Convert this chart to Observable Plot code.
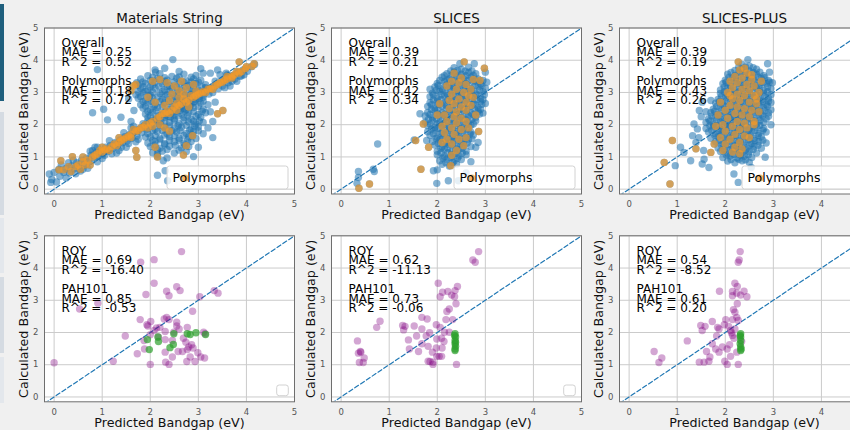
<!DOCTYPE html>
<html><head><meta charset="utf-8">
<script src="https://cdn.jsdelivr.net/npm/d3@7"></script>
<script src="https://cdn.jsdelivr.net/npm/@observablehq/plot@0.6"></script>
<style>
body{margin:0;background:#f0f0f0;font-family:"DejaVu Sans",sans-serif;}
#fig{position:relative;width:850px;height:430px;overflow:hidden;background:#f0f0f0;}
.panel{position:absolute;}
.deco{position:absolute;left:0;width:4px;}
</style></head><body>
<div id="fig">
  <div class="deco" style="top:4px;height:97px;background:#1f5f7d"></div>
  <div class="deco" style="top:112px;height:103px;background:#d5dbe2"></div>
  <div class="deco" style="top:218px;height:55px;background:#e3e7ec"></div>
  <div class="deco" style="top:277px;height:76px;background:#d5dbe2"></div>
  <div class="deco" style="top:357px;height:46px;background:#e3e7ec"></div>
</div>
<script>
// ---------- labels & statistics ----------
const panelTitles = ["Materials String", "SLICES", "SLICES-PLUS"];
const xLabel = "Predicted Bandgap (eV)";
const yLabel = "Calculated Bandgap (eV)";
const legendLabels = ["Polymorphs"];
const xTicks = [0, 1, 2, 3, 4, 5];
const yTicks = [0, 1, 2, 3, 4, 5];
const overallMAE = [0.25, 0.39, 0.39];
const overallR2 = [0.52, 0.21, 0.19];
const polyMAE = [0.18, 0.42, 0.43];
const polyR2 = [0.72, 0.34, 0.26];
const royMAE = [0.69, 0.62, 0.54];
const royR2 = [-16.40, -11.13, -8.52];
const pahMAE = [0.85, 0.73, 0.61];
const pahR2 = [-0.53, -0.06, 0.20];
const parity = [-0.2, 5];

// ---------- Materials String: overall (non-polymorph) points [predicted, calculated] ----------
const msOther = [
[-0.1,0.47],[0,0.52],[-0.07,0.21],[0.1,0.62],[-0.05,0.3],[0.05,0.22],[0.12,0.4],[0.2,0.52],[0.25,0.64],[0.32,0.5],[0.36,0.72],[0.42,0.63],[0.47,0.82],[0.52,0.7],[0.57,0.9],[0.62,0.78],[0.67,0.96],[0.72,0.86],[0.77,1.05],[0.83,0.94],[0.87,1.13],[0.92,1.02],[0.97,1.2],[1.02,1.1],[1.07,1.3],[1.12,1.18],[1.17,1.36],[1.22,1.27],[1.27,1.45],[1.32,1.35],[1.37,1.53],[1.42,1.44],[1.47,1.63],[1.52,1.5],[1.57,1.7],[1.62,1.58],[1.67,1.78],[1.72,1.65],[1.77,1.86],[1.82,1.75],[1.87,1.96],[1.92,1.85],[1.97,2.05],[2.03,1.95],[2.12,2.16],[2.22,2.1],[2.32,2.3],[2.42,2.24],[2.52,2.5],[2.62,2.44],[2.72,2.68],[2.82,2.6],[2.92,2.86],[3.02,2.8],[3.12,3.0],[3.22,2.95],[3.32,3.2],[3.42,3.12],[3.52,3.38],[3.62,3.3],[3.7,3.52],[3.76,3.42],[3.82,3.62],[3.87,3.5],[3.93,3.7],[4.02,3.66],[4.1,3.8],[4.17,3.87],[0.3,0.82],[0.55,0.56],[0.9,1.3],[1.2,1.1],[1.6,1.9],[1.4,1.3],[3.58,3.6],[3.45,3.55],[3.66,3.2],[1.3,1.12],[1.5,1.3],[1.7,1.47],[1.9,1.62],[0.7,0.65],[1.0,0.95],[0.85,1.3],[3.55,3.15],[3.8,3.35],[3.95,3.55],
[0.25,0.35],[0.4,0.9],[0.6,0.62],[0.75,1.18],[0.9,0.85],[1.05,1.05],[1.15,1.5],[1.35,1.2],[1.45,1.75],[1.55,1.42],[1.65,1.95],[1.75,1.55],[2.5,2.3],[2.7,2.5],[2.9,2.7],[3.1,2.85],[3.3,3.0],[3.5,3.2],[3.7,3.35],[3.9,3.52],[2.6,2.75],[2.85,2.95],[3.15,3.15],[3.35,3.35],[3.6,3.55],[0.15,0.75],[0.45,0.48],[0.8,1.2],
[1.95,3.52],[2.2,3.58],[2.45,3.5],[2.7,3.57],[2.95,3.53],[3.1,3.6],
[1.8,3.42],[2.0,3.37],[2.15,3.43],[2.35,3.38],[2.55,3.44],[2.75,3.36],[2.9,3.42],[3.05,3.38],
[1.75,3.22],[1.9,3.28],[2.05,3.23],[2.25,3.27],[2.4,3.21],[2.6,3.27],[2.8,3.22],[2.95,3.28],[3.15,3.24],
[1.8,3.12],[1.95,3.07],[2.1,3.13],[2.3,3.08],[2.45,3.12],[2.65,3.07],[2.85,3.12],[3.0,3.08],
[1.7,2.93],[1.85,2.98],[2.0,2.92],[2.2,2.97],[2.35,2.93],[2.55,2.98],[2.7,2.92],[2.9,2.97],[3.1,2.93],
[1.75,2.82],[1.9,2.77],[2.05,2.83],[2.25,2.78],[2.45,2.82],[2.6,2.77],[2.8,2.83],[2.95,2.78],
[1.8,2.62],[1.95,2.68],[2.1,2.63],[2.3,2.67],[2.5,2.62],[2.7,2.68],[2.85,2.63],[3.05,2.67],[3.2,2.62],
[1.85,2.52],[2.0,2.47],[2.15,2.53],[2.4,2.48],[2.6,2.52],[2.75,2.47],[2.9,2.53],[3.1,2.48],
[1.9,2.33],[2.05,2.38],[2.25,2.32],[2.45,2.37],[2.65,2.33],[2.8,2.38],[3.0,2.32],[3.15,2.37],
[1.95,2.22],[2.1,2.17],[2.3,2.23],[2.5,2.18],[2.7,2.22],[2.85,2.17],[3.05,2.23],
[1.85,2.03],[2.05,2.08],[2.2,2.02],[2.4,2.07],[2.6,2.03],[2.8,2.08],[2.95,2.02],[3.1,2.07],
[1.9,1.92],[2.1,1.87],[2.3,1.93],[2.5,1.88],[2.65,1.92],[2.85,1.87],[3.0,1.93],
[1.95,1.73],[2.15,1.78],[2.35,1.72],[2.55,1.77],[2.75,1.73],[2.9,1.78],[3.1,1.72],
[2.0,1.62],[2.2,1.57],[2.4,1.63],[2.6,1.58],[2.8,1.62],[2.95,1.57],
[1.95,1.43],[2.1,1.48],[2.3,1.42],[2.5,1.47],[2.7,1.43],[2.85,1.48],
[2.0,1.32],[2.2,1.27],[2.4,1.33],[2.65,1.28],[2.8,1.32],
[2.05,1.13],[2.25,1.18],[2.5,1.12],[2.75,1.17],
[2.15,1.02],[2.35,0.97],
[2.05,3.47],[2.3,3.46],[2.6,3.48],[2.85,3.47],
[1.85,3.33],[2.1,3.32],[2.3,3.34],[2.5,3.33],[2.7,3.31],[2.85,3.33],[3.0,3.32],
[1.85,3.18],[2.0,3.17],[2.18,3.19],[2.35,3.18],[2.55,3.17],[2.72,3.19],[2.9,3.18],[3.08,3.17],
[1.75,3.02],[1.9,3.03],[2.05,3.01],[2.25,3.02],[2.4,3.03],[2.6,3.01],[2.78,3.02],[2.95,3.03],
[1.8,2.87],[1.98,2.88],[2.15,2.86],[2.3,2.87],[2.5,2.88],[2.65,2.86],[2.85,2.87],[3.02,2.88],
[1.85,2.72],[2.02,2.73],[2.2,2.71],[2.38,2.72],[2.55,2.73],[2.75,2.71],[2.92,2.72],[3.1,2.73],
[1.9,2.57],[2.08,2.58],[2.25,2.56],[2.45,2.57],[2.65,2.58],[2.82,2.56],[3.0,2.57],
[1.95,2.42],[2.12,2.43],[2.32,2.41],[2.52,2.42],[2.72,2.43],[2.9,2.41],[3.08,2.42],
[2.0,2.27],[2.18,2.28],[2.38,2.26],[2.58,2.27],[2.78,2.28],[2.95,2.26],
[1.95,2.12],[2.12,2.13],[2.3,2.11],[2.5,2.12],[2.7,2.13],[2.9,2.11],[3.02,2.12],
[2.0,1.97],[2.2,1.98],[2.4,1.96],[2.58,1.97],[2.75,1.98],[2.92,1.96],
[2.05,1.82],[2.25,1.83],[2.45,1.81],[2.62,1.82],[2.82,1.83],[3.0,1.81],
[2.1,1.67],[2.3,1.68],[2.5,1.66],[2.7,1.67],[2.88,1.68],
[2.05,1.52],[2.2,1.53],[2.4,1.51],[2.6,1.52],[2.78,1.53],
[2.1,1.37],[2.3,1.38],[2.52,1.36],[2.72,1.37],
[2.15,1.22],[2.35,1.23],[2.6,1.21],
[2.1,3.7],[2.3,3.75],[2.6,3.65],[3.25,3.6],[3.4,3.7],[3.25,2.4],[3.3,2.1],[3.2,1.9],[3.35,2.7],
[1.03,2.48],[0.8,2.37],[0.9,3.71],[2.47,4.02],[2.11,3.63],[3.05,3.74],[1.11,2.15],[1.39,2.23],[1.66,2.44],[2.9,1.01],[2.15,0.43],[2.31,0.57],[2.36,0.26],[2.15,1.09],[2.27,0.88],[1.72,3.3],[1.55,2.8],[1.6,2.1],[3.3,1.6],[3.0,1.3]
];
// ---------- Materials String: polymorph points ----------
const msPoly = [
[0.14,0.88],[0.38,1.01],[0.45,0.7],[0.5,0.75],[0.55,0.62],[0.6,0.85],[0.7,0.9],[0.8,1.0],[0.9,1.1],[0.95,1.2],[1.0,1.15],[1.05,1.22],[1.1,1.25],[1.2,1.32],[1.25,1.4],[1.35,1.45],[1.4,1.5],[1.5,1.6],[1.55,1.65],[1.6,1.7],[1.7,1.8],[1.75,1.82],[1.85,1.92],[1.9,2.0],[2.0,2.05],[2.05,2.1],[2.15,2.2],[2.2,2.25],[2.3,2.35],[2.35,2.4],[2.45,2.45],[2.5,2.55],[2.6,2.6],[2.65,2.65],[2.75,2.7],[2.8,2.75],[2.9,2.85],[2.95,2.9],[3.05,2.98],[3.1,3.02],[3.2,3.1],[3.25,3.12],[3.35,3.2],[3.4,3.25],[3.5,3.32],[3.55,3.38],[3.6,3.42],[3.7,3.5],[3.75,3.55],[3.85,3.6],[3.9,3.65],[3.98,3.74],[3.85,3.95],[4.12,3.81],[4.16,3.89],[0.1,0.6],[0.3,0.7],[0.65,0.75],[1.15,1.2],[1.45,1.55],[1.8,1.9],[2.4,2.35],[3.0,2.95],[3.3,3.1],[3.6,3.5],[3.7,3.45],
[0.2,0.6],[0.35,0.55],[0.6,1.0],[0.75,0.75],[1.0,1.3],[1.3,1.35],[1.6,1.6],[1.65,1.85],[1.95,1.9],[2.25,2.35],[2.55,2.45],[2.7,2.8],[3.15,3.0],[3.45,3.3],[3.8,3.65],[4.0,3.8],[2.05,1.95],[1.35,1.6],[0.85,1.05],
[2.35,3.3],[2.5,3.2],[2.6,3.05],[2.75,3.15],[2.9,3.25],[2.45,2.95],[2.6,2.85],[2.7,2.95],[2.85,2.9],[2.4,2.75],[2.55,2.65],[2.8,2.55],[2.3,2.6],[2.95,3.05],[2.2,3.4],[2.65,3.35],[2.05,3.35],[1.7,3.25],[1.95,2.85],[2.1,2.7],[2.2,2.0],[2.3,1.9],[2.4,1.8],[1.7,1.2],[2.1,1.3],[1.6,3.05],[1.65,3.2],
[1.72,0.99],[2.69,1.06],[2.88,1.66],[3.4,2.34],[3.51,2.44],[2.75,1.35],[2.15,1.0]
];

// ---------- SLICES ----------
const slicesOther = [
[2.35,3.77],[2.5,3.72],[2.65,3.78],
[2.2,3.58],[2.35,3.63],[2.5,3.57],[2.65,3.62],[2.8,3.58],
[2.1,3.47],[2.25,3.42],[2.4,3.48],[2.55,3.43],[2.7,3.47],[2.85,3.42],
[2.0,3.28],[2.15,3.33],[2.3,3.27],[2.45,3.32],[2.6,3.28],[2.75,3.33],[2.9,3.27],
[1.95,3.17],[2.1,3.12],[2.25,3.18],[2.4,3.13],[2.55,3.17],[2.7,3.12],[2.85,3.18],[3.0,3.13],
[1.9,2.98],[2.05,3.03],[2.2,2.97],[2.35,3.02],[2.5,2.98],[2.65,3.03],[2.8,2.97],[2.95,3.02],
[1.85,2.87],[2.0,2.82],[2.15,2.88],[2.3,2.83],[2.45,2.87],[2.6,2.82],[2.75,2.88],[2.9,2.83],
[1.85,2.68],[2.0,2.73],[2.15,2.67],[2.3,2.72],[2.45,2.68],[2.6,2.73],[2.75,2.67],[2.9,2.72],[3.0,2.66],
[1.8,2.57],[1.95,2.52],[2.1,2.58],[2.25,2.53],[2.4,2.57],[2.55,2.52],[2.7,2.58],[2.85,2.53],
[1.8,2.38],[1.95,2.43],[2.1,2.37],[2.25,2.42],[2.4,2.38],[2.55,2.43],[2.7,2.37],[2.85,2.42],[2.95,2.36],
[1.75,2.27],[1.9,2.22],[2.05,2.28],[2.2,2.23],[2.35,2.27],[2.5,2.22],[2.65,2.28],[2.8,2.23],
[1.75,2.08],[1.9,2.13],[2.05,2.07],[2.2,2.12],[2.35,2.08],[2.5,2.13],[2.65,2.07],[2.8,2.12],
[1.8,1.97],[1.95,1.92],[2.1,1.98],[2.25,1.93],[2.4,1.97],[2.55,1.92],[2.7,1.98],
[1.8,1.78],[1.95,1.83],[2.1,1.77],[2.25,1.82],[2.4,1.78],[2.55,1.83],[2.7,1.77],
[1.85,1.67],[2.0,1.62],[2.15,1.68],[2.3,1.63],[2.45,1.67],[2.6,1.62],[2.75,1.68],
[1.9,1.48],[2.05,1.53],[2.2,1.47],[2.35,1.52],[2.5,1.48],[2.65,1.53],
[1.95,1.37],[2.1,1.32],[2.25,1.38],[2.4,1.33],[2.55,1.37],[2.7,1.32],
[2.0,1.18],[2.15,1.23],[2.3,1.17],[2.45,1.22],[2.6,1.18],
[2.0,1.07],[2.15,1.02],[2.3,1.08],[2.45,1.03],[2.6,1.07],
[2.05,0.88],[2.2,0.93],[2.35,0.87],[2.5,0.92],
[2.1,0.77],[2.25,0.72],[2.4,0.78],
[2.28,3.67],[2.42,3.68],[2.58,3.66],[2.72,3.67],
[2.15,3.52],[2.3,3.53],[2.45,3.51],[2.6,3.52],[2.75,3.53],
[2.05,3.37],[2.2,3.38],[2.35,3.36],[2.5,3.37],[2.65,3.38],[2.8,3.36],[2.95,3.37],
[2.02,3.22],[2.18,3.23],[2.32,3.21],[2.48,3.22],[2.62,3.23],[2.78,3.21],[2.92,3.22],
[1.98,3.07],[2.12,3.08],[2.28,3.06],[2.42,3.07],[2.58,3.08],[2.72,3.06],[2.88,3.07],
[1.92,2.92],[2.08,2.93],[2.22,2.91],[2.38,2.92],[2.52,2.93],[2.68,2.91],[2.82,2.92],[2.98,2.93],
[1.92,2.77],[2.08,2.78],[2.22,2.76],[2.38,2.77],[2.52,2.78],[2.68,2.76],[2.82,2.77],[2.95,2.78],
[1.88,2.62],[2.02,2.63],[2.18,2.61],[2.32,2.62],[2.48,2.63],[2.62,2.61],[2.78,2.62],[2.92,2.63],
[1.88,2.47],[2.02,2.48],[2.18,2.46],[2.32,2.47],[2.48,2.48],[2.62,2.46],[2.78,2.47],[2.9,2.48],
[1.85,2.32],[2.0,2.33],[2.15,2.31],[2.3,2.32],[2.45,2.33],[2.6,2.31],[2.75,2.32],[2.88,2.33],
[1.82,2.17],[1.98,2.18],[2.12,2.16],[2.28,2.17],[2.42,2.18],[2.58,2.16],[2.72,2.17],
[1.85,2.02],[2.0,2.03],[2.15,2.01],[2.3,2.02],[2.45,2.03],[2.6,2.01],[2.75,2.02],
[1.88,1.87],[2.02,1.88],[2.18,1.86],[2.32,1.87],[2.48,1.88],[2.62,1.86],
[1.92,1.72],[2.08,1.73],[2.22,1.71],[2.38,1.72],[2.52,1.73],[2.68,1.71],
[1.98,1.57],[2.12,1.58],[2.28,1.56],[2.42,1.57],[2.58,1.58],[2.72,1.56],
[2.02,1.42],[2.18,1.43],[2.32,1.41],[2.48,1.42],[2.62,1.43],
[2.08,1.27],[2.22,1.28],[2.38,1.26],[2.52,1.27],
[2.08,1.12],[2.22,1.13],[2.38,1.11],[2.52,1.12],
[2.12,0.97],[2.28,0.98],[2.42,0.96],
[2.18,0.82],[2.32,0.83],
[0.76,1.4],[0.36,0.55],[0.36,0.36],[0.33,0.18],[0.67,0.62],[0.69,0.55],[1.99,0.18],[1.92,0.57],[2.23,0.26],[2.44,0.26],[1.64,2.34],[1.78,1.51],[2.8,1.3],[3.03,3.32],[3.0,3.63],[2.77,3.89],[2.47,3.89],[1.52,1.53],[1.85,3.1],[2.0,0.6],[2.6,0.5],[2.7,0.85],[2.85,1.45]
];
const slicesPoly = [
[0.37,0.03],[0.59,0.16],[1.66,0.62],[2.86,1.79],[1.55,1.51],[2.56,3.95],[2.98,3.75],[2.89,3.37],[1.71,2.02],[1.82,1.3],[2.28,0.73],
[2.3,3.35],[2.45,3.3],[2.6,3.25],[2.7,3.1],[2.4,3.1],[2.55,3.0],[2.3,2.95],[2.65,2.9],[2.45,2.8],[2.6,2.7],[2.35,2.65],[2.5,2.55],[2.7,2.6],[2.25,2.5],[2.4,2.4],[2.6,2.45],[2.15,2.3],[2.35,2.25],[2.5,2.2],[2.2,2.1],[2.4,2.05],[2.6,2.1],[2.1,1.95],[2.3,1.9],[2.5,1.85],[2.15,1.75],[2.35,1.7],[2.2,1.55],[2.45,1.55],[2.3,1.4],[2.1,1.45],[2.55,1.35],[2.65,1.9],[2.0,2.3],[2.25,2.75],[2.75,2.85],[2.5,3.45],[2.35,3.6],[2.2,3.2],[2.75,3.4],[2.05,2.65],[2.6,1.6],[2.4,1.2],[2.3,1.05],[2.8,2.3]
];

// ---------- SLICES-PLUS ----------
const plusOther = [
[2.35,3.87],[2.5,3.82],
[2.2,3.68],[2.35,3.73],[2.5,3.67],[2.65,3.72],
[2.05,3.57],[2.2,3.52],[2.35,3.58],[2.5,3.53],[2.65,3.57],[2.8,3.52],
[2.0,3.38],[2.15,3.43],[2.3,3.37],[2.45,3.42],[2.6,3.38],[2.75,3.43],[2.9,3.37],
[1.95,3.27],[2.1,3.22],[2.25,3.28],[2.4,3.23],[2.55,3.27],[2.7,3.22],[2.85,3.28],
[1.9,3.08],[2.05,3.13],[2.2,3.07],[2.35,3.12],[2.5,3.08],[2.65,3.13],[2.8,3.07],[2.95,3.12],
[1.9,2.97],[2.05,2.92],[2.2,2.98],[2.35,2.93],[2.5,2.97],[2.65,2.92],[2.8,2.98],[2.95,2.93],
[1.85,2.78],[2.0,2.83],[2.15,2.77],[2.3,2.82],[2.45,2.78],[2.6,2.83],[2.75,2.77],[2.9,2.82],
[1.8,2.67],[1.95,2.62],[2.1,2.68],[2.25,2.63],[2.4,2.67],[2.55,2.62],[2.7,2.68],[2.85,2.63],[2.95,2.69],
[1.75,2.48],[1.9,2.53],[2.05,2.47],[2.2,2.52],[2.35,2.48],[2.5,2.53],[2.65,2.47],[2.8,2.52],[2.95,2.46],
[1.7,2.37],[1.85,2.32],[2.0,2.38],[2.15,2.33],[2.3,2.37],[2.45,2.32],[2.6,2.38],[2.75,2.33],[2.9,2.37],
[1.65,2.18],[1.8,2.23],[1.95,2.17],[2.1,2.22],[2.25,2.18],[2.4,2.23],[2.55,2.17],[2.7,2.22],[2.85,2.18],
[1.6,2.07],[1.75,2.02],[1.9,2.08],[2.05,2.03],[2.2,2.07],[2.35,2.02],[2.5,2.08],[2.65,2.03],[2.8,2.07],
[1.6,1.88],[1.75,1.93],[1.9,1.87],[2.05,1.92],[2.2,1.88],[2.35,1.93],[2.5,1.87],[2.65,1.92],[2.8,1.88],
[1.65,1.77],[1.8,1.72],[1.95,1.78],[2.1,1.73],[2.25,1.77],[2.4,1.72],[2.55,1.78],[2.7,1.73],[2.85,1.77],
[1.7,1.58],[1.85,1.63],[2.0,1.57],[2.15,1.62],[2.3,1.58],[2.45,1.63],[2.6,1.57],[2.75,1.62],
[1.8,1.47],[1.95,1.42],[2.1,1.48],[2.25,1.43],[2.4,1.47],[2.55,1.42],[2.7,1.48],[2.85,1.43],
[1.85,1.28],[2.0,1.33],[2.15,1.27],[2.3,1.32],[2.45,1.28],[2.6,1.33],[2.75,1.27],
[1.9,1.17],[2.05,1.12],[2.2,1.18],[2.35,1.13],[2.5,1.17],[2.65,1.12],
[1.95,0.98],[2.1,1.03],[2.25,0.97],[2.4,1.02],[2.55,0.98],
[2.05,0.87],[2.2,0.82],[2.35,0.88],[2.5,0.83],
[2.28,3.78],[2.42,3.79],[2.58,3.77],
[2.12,3.62],[2.28,3.63],[2.42,3.61],[2.58,3.62],[2.72,3.63],
[2.08,3.47],[2.22,3.48],[2.38,3.46],[2.52,3.47],[2.68,3.48],[2.82,3.46],
[2.02,3.32],[2.18,3.33],[2.32,3.31],[2.48,3.32],[2.62,3.33],[2.78,3.31],[2.92,3.32],
[1.98,3.17],[2.12,3.18],[2.28,3.16],[2.42,3.17],[2.58,3.18],[2.72,3.16],[2.88,3.17],
[1.98,3.02],[2.12,3.03],[2.28,3.01],[2.42,3.02],[2.58,3.03],[2.72,3.01],[2.88,3.02],
[1.92,2.87],[2.08,2.88],[2.22,2.86],[2.38,2.87],[2.52,2.88],[2.68,2.86],[2.82,2.87],
[1.88,2.72],[2.02,2.73],[2.18,2.71],[2.32,2.72],[2.48,2.73],[2.62,2.71],[2.78,2.72],[2.9,2.73],
[1.82,2.57],[1.98,2.58],[2.12,2.56],[2.28,2.57],[2.42,2.58],[2.58,2.56],[2.72,2.57],[2.88,2.58],
[1.78,2.42],[1.92,2.43],[2.08,2.41],[2.22,2.42],[2.38,2.43],[2.52,2.41],[2.68,2.42],[2.82,2.43],
[1.72,2.27],[1.88,2.28],[2.02,2.26],[2.18,2.27],[2.32,2.28],[2.48,2.26],[2.62,2.27],[2.78,2.28],[2.9,2.26],
[1.68,2.12],[1.82,2.13],[1.98,2.11],[2.12,2.12],[2.28,2.13],[2.42,2.11],[2.58,2.12],[2.72,2.13],
[1.68,1.97],[1.82,1.98],[1.98,1.96],[2.12,1.97],[2.28,1.98],[2.42,1.96],[2.58,1.97],[2.72,1.98],
[1.72,1.82],[1.88,1.83],[2.02,1.81],[2.18,1.82],[2.32,1.83],[2.48,1.81],[2.62,1.82],[2.78,1.83],
[1.78,1.67],[1.92,1.68],[2.08,1.66],[2.22,1.67],[2.38,1.68],[2.52,1.66],[2.68,1.67],
[1.88,1.52],[2.02,1.53],[2.18,1.51],[2.32,1.52],[2.48,1.53],[2.62,1.51],[2.78,1.52],
[1.92,1.37],[2.08,1.38],[2.22,1.36],[2.38,1.37],[2.52,1.38],[2.68,1.36],
[1.98,1.22],[2.12,1.23],[2.28,1.21],[2.42,1.22],[2.58,1.23],
[2.02,1.07],[2.18,1.08],[2.32,1.06],[2.48,1.07],
[2.12,0.92],[2.28,0.93],[2.42,0.91],
[1.42,1.87],[1.32,1.66],[1.28,0.88],[1.52,0.78],[1.66,0.67],[1.56,0.93],[1.14,1.14],[0.96,0.73],[1.07,1.3],[1.46,2.44],[1.52,2.7],[1.39,1.45],[1.35,2.02],[1.5,2.25],[1.55,1.2],[2.27,0.21],[2.47,4.02],[2.88,3.89],[2.92,3.63],[2.83,0.99],[2.54,0.67],[2.18,0.47],[1.45,1.6],[1.6,2.4],[1.7,2.75],[2.95,2.0],[2.98,3.3]
];
const plusPoly = [
[0.73,0.83],[0.9,1.51],[0.85,0.16],[1.39,1.25],[1.7,1.14],[1.77,1.4],[2.27,3.95],
[2.3,3.7],[2.45,3.6],[2.2,3.5],[2.35,3.45],[2.55,3.4],[2.1,3.35],[2.25,3.3],[2.45,3.25],[2.6,3.2],[2.15,3.15],[2.35,3.1],[2.5,3.05],[2.05,3.0],[2.25,2.95],[2.4,2.9],[2.6,2.9],[2.15,2.8],[2.3,2.75],[2.5,2.7],[2.65,2.65],[2.1,2.6],[2.25,2.55],[2.4,2.5],[2.55,2.45],[2.0,2.45],[2.2,2.35],[2.35,2.3],[2.5,2.25],[2.05,2.2],[2.25,2.1],[2.4,2.05],[2.6,2.1],[1.95,2.0],[2.15,1.95],[2.3,1.85],[2.0,1.8],[2.2,1.7],[2.4,1.65],[1.9,1.6],[2.1,1.55],[2.3,1.45],[2.0,1.4],[2.2,1.3],[1.95,1.2],[2.15,1.15],[2.35,1.25],[2.7,3.0],[2.7,2.4],[1.85,2.3],[1.8,1.95],[2.5,1.6],[2.55,3.55],[2.4,3.75],[2.75,3.35],[2.6,2.0],[2.45,1.9],[2.1,2.9],[2.65,2.8],[1.9,2.7],[2.3,1.1]
];

// ---------- ROY (purple) and PAH101 (green) ----------
const msRoy = [
[0.0,1.06],[1.8,4.18],[2.08,4.26],[2.65,4.51],[2.08,3.53],[1.91,3.18],[2.34,3.28],[2.55,3.42],[2.39,3.14],[2.62,3.3],[3.03,3.11],[3.33,3.3],[3.41,3.22],[0.91,2.91],[0.53,2.73],[2.88,2.66],[1.79,2.4],[1.93,2.24],[1.95,2.2],[2.01,2.34],[2.08,2.06],[2.13,2.14],[2.2,2.16],[2.29,2.42],[2.34,2.47],[2.39,2.4],[2.55,2.2],[2.6,2.11],[2.49,2.01],[2.31,2.03],[2.77,2.16],[2.55,2.32],[2.0,1.93],[2.17,1.86],[1.48,1.89],[1.87,1.75],[2.31,1.78],[2.46,1.75],[2.69,1.82],[2.74,1.7],[2.86,1.62],[2.8,1.55],[2.89,1.52],[2.77,1.47],[2.99,1.37],[3.14,1.96],[3.11,2.01],[1.88,1.49],[1.73,1.34],[2.31,1.39],[2.58,1.41],[2.67,1.41],[2.46,1.24],[2.83,1.24],[3.05,1.24],[3.13,1.21],[1.23,1.11],[2.0,1.01],[2.32,1.08],[2.39,1.01],[2.76,1.1],[2.93,1.1]
];
const msPah = [
[1.94,1.78],[1.98,1.47],[2.17,1.72],[2.16,1.86],[2.49,1.96],[2.77,1.96],[2.83,1.94],[2.95,1.99],[3.15,1.94],[2.48,1.63],[2.41,1.53]
];
const slicesRoy = [
[2.86,4.51],[2.74,4.25],[2.79,4.18],[2.02,3.53],[2.42,3.43],[2.37,3.3],[2.11,3.25],[2.22,3.27],[2.3,3.16],[2.06,3.11],[2.36,3.11],[2.39,2.89],[2.25,2.73],[2.2,2.65],[2.32,2.4],[2.18,2.4],[1.68,2.47],[1.79,2.42],[0.81,2.35],[0.74,2.16],[1.28,2.22],[1.33,2.19],[1.3,2.08],[1.52,2.2],[1.68,2.11],[1.98,2.24],[2.06,2.16],[1.84,1.99],[2.15,2.01],[2.25,2.01],[1.57,1.89],[1.68,1.65],[1.77,1.89],[1.99,1.8],[2.09,1.82],[2.14,1.72],[1.4,1.77],[1.42,1.49],[1.61,1.41],[1.81,1.57],[1.9,1.39],[1.98,1.52],[2.1,1.52],[1.99,1.26],[2.04,1.26],[2.09,1.26],[1.81,1.11],[1.85,1.1],[1.91,1.08],[1.91,1.01],[2.4,1.01],[0.34,1.74],[0.4,1.41],[0.36,1.36],[0.41,1.39],[0.48,1.21],[0.38,1.07],[0.46,1.07]
];
const slicesPah = [
[2.37,1.96],[2.38,1.86],[2.37,1.75],[2.37,1.65],[2.38,1.57],[2.37,1.49],[2.37,1.44],[2.36,1.91],[2.38,1.7]
];
const plusRoy = [
[2.31,4.51],[2.29,4.25],[2.27,4.18],[2.2,3.53],[2.25,3.43],[2.15,3.27],[2.24,3.22],[2.32,3.16],[2.39,3.28],[2.45,3.11],[2.15,3.14],[1.88,3.28],[2.25,2.89],[2.17,2.71],[2.2,2.63],[2.24,2.47],[2.15,2.4],[2.27,2.37],[1.73,2.34],[2.01,2.4],[1.49,2.22],[1.58,2.19],[1.52,2.06],[1.84,2.16],[1.87,2.11],[1.98,2.24],[2.07,2.19],[2.11,2.06],[2.2,2.11],[2.13,1.99],[2.15,1.91],[2.18,1.82],[1.82,1.89],[1.21,1.74],[1.73,1.65],[1.8,1.49],[1.87,1.39],[1.94,1.55],[2.04,1.49],[2.09,1.62],[1.61,1.41],[1.68,1.24],[1.56,1.08],[1.46,1.08],[1.66,1.11],[1.99,1.11],[2.11,1.26],[2.04,1.01],[2.27,1.01],[2.24,1.39],[2.34,1.72],[0.52,1.41],[0.68,1.21],[0.62,1.07]
];
const plusPah = [
[2.32,1.96],[2.31,1.91],[2.32,1.86],[2.32,1.75],[2.31,1.65],[2.32,1.55],[2.33,1.49],[2.32,1.44]
];

// ---------- drawing ----------
const BLUE = "#1f72ae", ORANGE = "#f39a2a", PURPLE = "#800080", GREEN = "#2ca02c";
const FONT = "DejaVu Sans";
const fig = document.getElementById("fig");

function legendMark(label) {
  return (index, scales, values, dims) => {
    const right = dims.width - dims.marginRight;
    const bottom = dims.height - dims.marginBottom;
    const g = d3.create("svg:g");
    if (label) {
      const w = 121, h = 23, x0 = right - 6 - w, y0 = bottom - 4.5 - h;
      g.append("rect").attr("x", x0).attr("y", y0).attr("width", w).attr("height", h)
        .attr("rx", 2.5).attr("fill", "white").attr("fill-opacity", 0.8).attr("stroke", "#d2d2d2");
      g.append("circle").attr("cx", x0 + 18).attr("cy", y0 + 12).attr("r", 3.6)
        .attr("fill", ORANGE).attr("fill-opacity", 0.7);
      g.append("text").attr("x", x0 + 42).attr("y", y0 + 16).attr("font-size", 12.5)
        .attr("font-family", FONT).attr("fill", "black").text(label);
    } else {
      const w = 11.6, h = 10.7, x0 = right - 5.7 - w, y0 = bottom - 5.6 - h;
      g.append("rect").attr("x", x0).attr("y", y0).attr("width", w).attr("height", h)
        .attr("rx", 2.5).attr("fill", "white").attr("fill-opacity", 0.8).attr("stroke", "#d2d2d2");
    }
    return g.node();
  };
}

function drawPanel({left, top, height, marginTop, marginBottom, xLabelDy, title, layers, annot, legend}) {
  const marks = [
    Plot.frame({fill: "white", stroke: null}),
    Plot.gridX(xTicks, {stroke: "#cbcbcb", strokeOpacity: 1, strokeWidth: 1}),
    Plot.gridY(yTicks, {stroke: "#cbcbcb", strokeOpacity: 1, strokeWidth: 1}),
    Plot.axisX(xTicks, {tickSize: 0, tickPadding: 7, fontSize: 8.5, fill: "#555", label: null}),
    Plot.axisY(yTicks, {tickSize: 0, tickPadding: 6, fontSize: 8.5, fill: "#555", label: null}),
    Plot.line(parity, {x: d => d, y: d => d, stroke: "#1f77b4", strokeWidth: 1.2, strokeDasharray: "4.5,2.5", clip: true}),
    ...layers,
    Plot.text([annot], {frameAnchor: "top-left", dx: 17, dy: 12, lineAnchor: "top", textAnchor: "start",
      lineHeight: 0.8, fontSize: 12, fill: "black", fontFamily: FONT}),
    legendMark(legend),
    Plot.frame({stroke: "#6e6e6e", strokeWidth: 1}),
    Plot.text([xLabel], {frameAnchor: "bottom", lineAnchor: "bottom", dy: xLabelDy, fontSize: 12.7, fill: "#111", fontFamily: FONT}),
    Plot.text([yLabel], {frameAnchor: "left", lineAnchor: "bottom", rotate: -90, textAnchor: "middle", dx: -17, fontSize: 12.7, fill: "#111", fontFamily: FONT})
  ];
  if (title) marks.push(Plot.text([title], {frameAnchor: "top", lineAnchor: "bottom", dy: -5, fontSize: 13.5, fill: "#111", fontFamily: FONT}));
  const chart = Plot.plot({
    width: 300, height, marginLeft: 44, marginRight: 6, marginTop, marginBottom,
    style: {background: "transparent", overflow: "visible", fontFamily: FONT},
    x: {domain: [-0.2, 5]},
    y: {domain: [-0.15, 5]},
    marks
  });
  chart.classList.add("panel");
  chart.style.left = left + "px";
  chart.style.top = top + "px";
  fig.appendChild(chart);
}

const lefts = [-0.3, 287.4, 574.7];
const topSets = [[msOther, msPoly], [slicesOther, slicesPoly], [plusOther, plusPoly]];
const botSets = [[msRoy, msPah], [slicesRoy, slicesPah], [plusRoy, plusPah]];
const pt = {x: d => d[0], y: d => d[1], r: 3.7};

for (let i = 0; i < 3; i++) {
  const [other, poly] = topSets[i];
  drawPanel({
    left: lefts[i], top: 0, height: 222, marginTop: 27.5, marginBottom: 28.5, xLabelDy: 25,
    title: panelTitles[i],
    layers: [
      Plot.dot(other.concat(poly), {...pt, fill: BLUE, fillOpacity: 0.55}),
      Plot.dot(poly, {...pt, fill: ORANGE, fillOpacity: 0.7})
    ],
    annot: `Overall\nMAE = ${overallMAE[i].toFixed(2)}\nR^2 = ${overallR2[i].toFixed(2)}\n\n${legendLabels[0]}\nMAE = ${polyMAE[i].toFixed(2)}\nR^2 = ${polyR2[i].toFixed(2)}`,
    legend: legendLabels[0]
  });
}
for (let i = 0; i < 3; i++) {
  const [roy, pah] = botSets[i];
  drawPanel({
    left: lefts[i], top: 215, height: 216, marginTop: 20.3, marginBottom: 29.7, xLabelDy: 25,
    title: null,
    layers: [
      Plot.dot(roy, {...pt, fill: PURPLE, fillOpacity: 0.35}),
      Plot.dot(pah, {...pt, fill: GREEN, fillOpacity: 0.7})
    ],
    annot: `ROY\nMAE = ${royMAE[i].toFixed(2)}\nR^2 = ${royR2[i].toFixed(2)}\n\nPAH101\nMAE = ${pahMAE[i].toFixed(2)}\nR^2 = ${pahR2[i].toFixed(2)}`,
    legend: null
  });
}
</script>
</body></html>
